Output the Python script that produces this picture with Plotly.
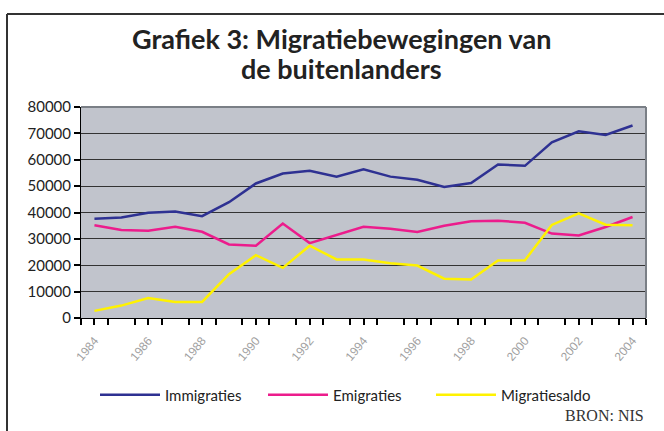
import plotly.graph_objects as go

years = [str(y) for y in range(1984, 2005)]
immigraties = [37600, 38100, 39900, 40400, 38600, 43900, 51000, 54800, 55800, 53600,
               56400, 53600, 52400, 49700, 51200, 58200, 57700, 66600, 70800, 69400, 73000]
emigraties = [35200, 33400, 33100, 34600, 32700, 27900, 27400, 35800, 28400, 31600,
              34600, 33800, 32600, 35000, 36700, 36900, 36100, 32000, 31300, 34500, 38300]
migratiesaldo = [2700, 4700, 7600, 6100, 6100, 16600, 23800, 19000, 27400, 22200,
                 22200, 20800, 19900, 14900, 14600, 21800, 21900, 35300, 39700, 35400, 35200]
tick_labels = years[::2]
y_ticks = list(range(0, 80001, 10000))

W, H = 664, 431
L, R, T, B = 81, 18, 107, 113
pw, ph = W - L - R, H - T - B

def px(x):
    return (x - L) / pw

def py(y):
    return (H - B - y) / ph

idx = list(range(len(years)))
fig = go.Figure()
series = [("Immigraties", immigraties, "#2E3192"),
          ("Emigraties", emigraties, "#EC1C8C"),
          ("Migratiesaldo", migratiesaldo, "#FFF200")]
for name, vals, col in series:
    fig.add_trace(go.Scatter(x=idx, y=vals, name=name, mode="lines",
                             line=dict(color=col, width=2.5)))

label_pos = [years.index(t) for t in tick_labels]
fig.update_layout(
    width=W, height=H,
    margin=dict(l=L, r=R, t=T, b=B),
    paper_bgcolor="white",
    plot_bgcolor="#C1C4CC",
    legend=dict(orientation="h", x=px(95), xanchor="left", y=py(395), yanchor="middle",
                font=dict(family="Lato", size=15, color="#222"),
                itemwidth=60, entrywidth=93, bgcolor="rgba(0,0,0,0)"),
    showlegend=True,
    xaxis=dict(range=[-0.5, 20.5], tickmode="array",
               tickvals=label_pos, ticktext=tick_labels,
               tickangle=-50, tickfont=dict(family="Arial", size=12, color="#A0A0A0"),
               ticks="outside", ticklen=6, tickwidth=2, tickcolor="#000000",
               minor=dict(ticks="outside", ticklen=6, tickwidth=2, tickcolor="#000000",
                          tick0=-0.5, dtick=1, showgrid=False),
               showgrid=False, showline=True, linecolor="black", linewidth=1,
               zeroline=False, ticklabelstandoff=4),
    yaxis=dict(range=[0, 80000], tickvals=y_ticks, ticktext=[str(v) for v in y_ticks],
               tickfont=dict(family="Lato", size=15, color="#222"),
               showgrid=True, gridcolor="#333333", gridwidth=1,
               showline=True, linecolor="black", linewidth=1,
               ticks="outside", ticklen=6, tickwidth=2, tickcolor="#000000", zeroline=False),
)

shapes = [
    dict(type="line", xref="paper", yref="paper", x0=0, x1=1, y0=1, y1=1,
         line=dict(color="#7A7F86", width=2)),
    dict(type="line", xref="paper", yref="paper", x0=1, x1=1, y0=0, y1=1,
         line=dict(color="#7A7F86", width=2)),
    dict(type="line", xref="paper", yref="paper", x0=px(7), x1=px(700), y0=py(14), y1=py(14),
         line=dict(color="#333", width=2)),
    dict(type="line", xref="paper", yref="paper", x0=px(7), x1=px(7), y0=py(14), y1=py(460),
         line=dict(color="#333", width=2)),
]
fig.update_layout(shapes=shapes)
title_lines = ["Grafiek 3: Migratiebewegingen van", "de buitenlanders"]
for line, ypix in zip(title_lines, [38, 69]):
    fig.add_annotation(text="<b>" + line + "</b>", xref="paper", yref="paper",
                       x=px(341), y=py(ypix), xanchor="center", yanchor="middle",
                       showarrow=False, font=dict(family="Lato", size=27, color="#222"))
fig.add_annotation(text="BRON: NIS", xref="paper", yref="paper", x=px(646), y=py(415),
                   xanchor="right", yanchor="middle", showarrow=False,
                   font=dict(family="Liberation Serif", size=16, color="#333"))

fig.write_html("out.html", config={"displayModeBar": False},
               post_script="document.body.style.margin='0';")
